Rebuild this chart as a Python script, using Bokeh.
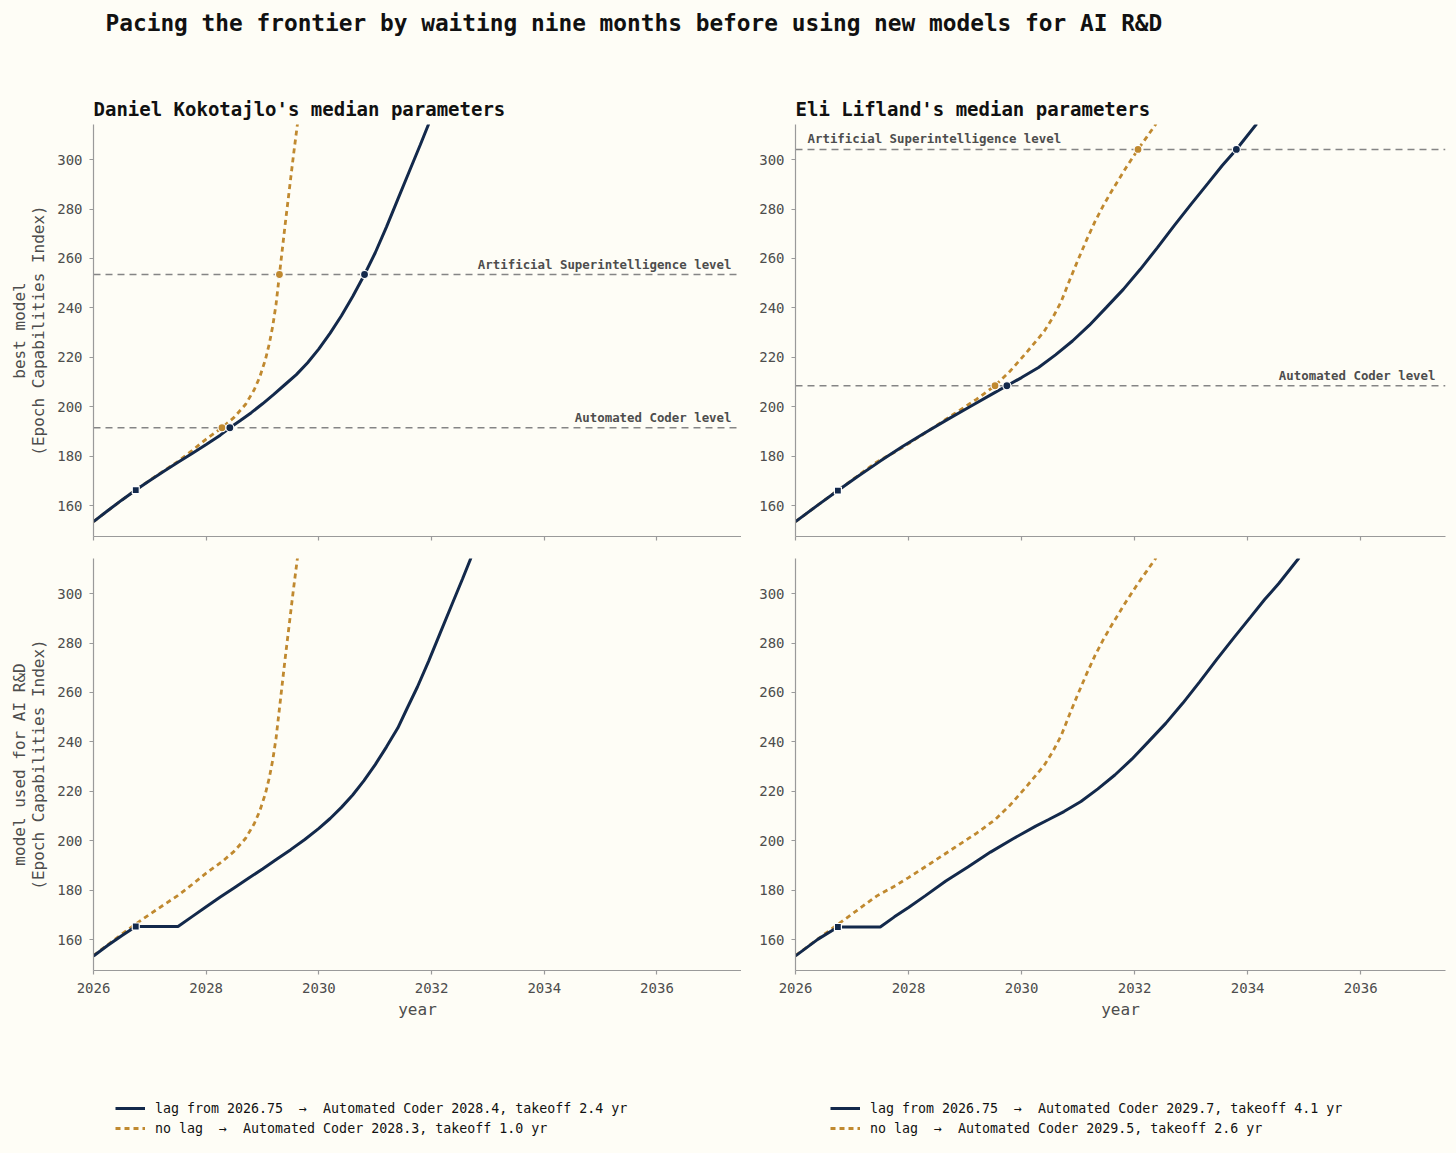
from bokeh.plotting import figure
from bokeh.layouts import column, row
from bokeh.models import (Span, Label, Legend, LegendItem, FixedTicker,
                          CustomJSTickFormatter, Range1d)
from bokeh.embed import file_html
from bokeh.resources import INLINE

BG = "#fefdf6"
NAVY = "#13294b"
GOLD = "#c0892f"
AXC = "#9a9a9a"
TXT = "#4d4d4d"
REF = "#858585"
FONT = "DejaVu Sans Mono"

MAIN_TITLE = "Pacing the frontier by waiting nine months before using new models for AI R&D"
PANEL_TITLES = ["Daniel Kokotajlo's median parameters", "Eli Lifland's median parameters"]
Y_LABEL_TOP = "best model\n(Epoch Capabilities Index)"
Y_LABEL_BOTTOM = "model used for AI R&D\n(Epoch Capabilities Index)"
X_LABEL = "year"
ASI_TEXT = "Artificial Superintelligence level"
AC_TEXT = "Automated Coder level"

x_ticks = [2026, 2028, 2030, 2032, 2034, 2036]
y_ticks = [160, 180, 200, 220, 240, 260, 280, 300]
x_lim = (2026, 2037.5)
y_lim = (147.5, 314.2)

# ---------------- Daniel Kokotajlo ----------------
dk_best_lag_x = [2026.0, 2026.25, 2026.5, 2026.75, 2027.0, 2027.25, 2027.5, 2027.75, 2028.0,
                 2028.25, 2028.42, 2028.6, 2028.8, 2029.0, 2029.2, 2029.4, 2029.6, 2029.8,
                 2030.0, 2030.2, 2030.4, 2030.6, 2030.81, 2031.0, 2031.2, 2031.4, 2031.6,
                 2031.8, 2031.95]
dk_best_lag_y = [153.5, 157.9, 162.2, 166.3, 170.2, 173.9, 177.5, 181.1, 184.7,
                 188.5, 191.5, 194.3, 197.6, 201.2, 205.0, 209.0, 213.0, 217.8,
                 223.4, 229.8, 236.8, 244.6, 253.5, 262.3, 272.8, 283.9, 295.0,
                 306.0, 314.5]
dk_nolag_x = [2026.0, 2026.5, 2026.75, 2027.0, 2027.25, 2027.5, 2027.75, 2028.0, 2028.28,
              2028.5, 2028.7, 2028.85, 2028.95, 2029.05, 2029.12, 2029.18, 2029.24, 2029.3,
              2029.35, 2029.4, 2029.45, 2029.5, 2029.55, 2029.62]
dk_nolag_y = [153.5, 162.2, 166.3, 170.3, 174.1, 177.9, 182.3, 186.9, 191.5,
              195.8, 201.0, 206.8, 212.0, 219.0, 225.5, 232.5, 241.5, 253.5,
              263.5, 273.5, 283.0, 292.5, 302.0, 314.5]
dk_used_lag_x = [2026.0, 2026.25, 2026.5, 2026.75, 2027.0, 2027.25, 2027.5, 2027.75, 2028.0,
                 2028.25, 2028.5, 2028.75, 2029.0, 2029.25, 2029.5, 2029.75, 2030.0, 2030.2,
                 2030.4, 2030.6, 2030.8, 2031.0, 2031.2, 2031.4, 2031.56, 2031.75, 2031.95,
                 2032.15, 2032.35, 2032.55, 2032.7]
dk_used_lag_y = [153.4, 157.6, 161.6, 165.3, 165.3, 165.3, 165.3, 169.3, 173.3,
                 177.2, 181.0, 184.8, 188.6, 192.5, 196.4, 200.5, 205.0, 209.0,
                 213.5, 218.5, 224.3, 230.8, 238.0, 245.6, 253.3, 262.3, 272.8,
                 283.9, 295.0, 306.0, 314.5]
dk_ac_level = 191.5
dk_asi_level = 253.5
dk_ac_year = {"lag": 2028.42, "nolag": 2028.28}
dk_asi_year = {"lag": 2030.81, "nolag": 2029.30}
dk_lag_start = (2026.75, 166.3, 165.3)   # year, best model, model used

# ---------------- Eli Lifland ----------------
el_best_lag_x = [2026.0, 2026.4, 2026.75, 2027.1, 2027.5, 2027.9, 2028.3, 2028.7, 2029.1,
                 2029.5, 2029.74, 2030.0, 2030.3, 2030.6, 2030.9, 2031.2, 2031.5, 2031.8,
                 2032.1, 2032.4, 2032.7, 2033.0, 2033.3, 2033.55, 2033.8, 2034.16]
el_best_lag_y = [153.5, 160.3, 166.1, 171.8, 178.0, 184.0, 189.6, 195.0, 200.2,
                 205.4, 208.5, 211.8, 215.9, 221.0, 226.6, 233.0, 240.2, 247.5,
                 255.6, 264.3, 273.3, 282.0, 290.5, 297.6, 304.1, 314.5]
el_nolag_x = [2026.0, 2026.4, 2026.75, 2027.1, 2027.44, 2027.75, 2028.0, 2028.4, 2028.82,
              2029.2, 2029.53, 2029.8, 2030.1, 2030.4, 2030.55, 2030.7, 2030.85, 2031.0,
              2031.15, 2031.3, 2031.45, 2031.6, 2031.85, 2032.06, 2032.22, 2032.38]
el_nolag_y = [153.5, 160.3, 166.2, 172.0, 177.7, 181.6, 185.1, 191.0, 197.3,
              203.0, 208.5, 214.5, 222.3, 230.5, 236.0, 242.5, 251.2, 259.5,
              267.5, 275.0, 281.6, 287.5, 296.8, 304.1, 309.3, 314.5]
el_used_lag_x = [2026.0, 2026.4, 2026.75, 2027.1, 2027.5, 2027.75, 2028.0, 2028.3, 2028.66,
                 2029.05, 2029.45, 2029.85, 2030.25, 2030.48, 2030.75, 2031.05, 2031.35,
                 2031.65, 2031.95, 2032.25, 2032.55, 2032.85, 2033.15, 2033.45, 2033.75,
                 2034.05, 2034.3, 2034.55, 2034.91]
el_used_lag_y = [153.4, 160.2, 165.1, 165.1, 165.1, 169.2, 173.0, 177.8, 183.7,
                 189.4, 195.4, 200.8, 205.9, 208.6, 211.8, 215.9, 221.0,
                 226.6, 233.0, 240.2, 247.5, 255.6, 264.3, 273.3, 282.0,
                 290.5, 297.6, 304.1, 314.5]
el_ac_level = 208.5
el_asi_level = 304.1
el_ac_year = {"lag": 2029.74, "nolag": 2029.53}
el_asi_year = {"lag": 2033.80, "nolag": 2032.06}
el_lag_start = (2026.75, 166.1, 165.1)

legend_labels_dk = ["lag from 2026.75  \u2192  Automated Coder 2028.4, takeoff 2.4 yr",
                    "no lag  \u2192  Automated Coder 2028.3, takeoff 1.0 yr"]
legend_labels_el = ["lag from 2026.75  \u2192  Automated Coder 2029.7, takeoff 4.1 yr",
                    "no lag  \u2192  Automated Coder 2029.5, takeoff 2.6 yr"]

NAVY_W = 3.0
GOLD_W = 2.8
GOLD_DASH = "5 4"


def style(p, show_xlabels):
    p.background_fill_color = BG
    p.border_fill_color = BG
    p.outline_line_color = None
    p.grid.visible = False
    for ax in (p.xaxis[0], p.yaxis[0]):
        ax.axis_line_color = AXC
        ax.axis_line_width = 1.2
        ax.major_tick_line_color = AXC
        ax.major_tick_line_width = 1.2
        ax.major_tick_out = 4
        ax.major_tick_in = 0
        ax.minor_tick_line_color = None
        ax.major_label_text_font = FONT
        ax.major_label_text_font_size = "14px"
        ax.major_label_text_color = TXT
        ax.axis_label_text_font = FONT
        ax.axis_label_text_font_size = "16px"
        ax.axis_label_text_font_style = "normal"
        ax.axis_label_text_color = TXT
        ax.axis_label_text_line_height = 1.02
    p.xaxis.ticker = FixedTicker(ticks=x_ticks)
    p.yaxis.ticker = FixedTicker(ticks=y_ticks)
    p.yaxis.major_label_standoff = 7
    p.yaxis.axis_label_standoff = 6
    if show_xlabels:
        p.xaxis.major_label_standoff = 8
        p.xaxis.axis_label_standoff = 4
        p.xaxis.axis_label = X_LABEL
    else:
        p.xaxis.formatter = CustomJSTickFormatter(code="return ''")
        p.xaxis.major_label_standoff = 0


def make_fig(left, top, bottom, right, frame_w, frame_h, title=None):
    p = figure(width=left + frame_w + right, height=top + frame_h + bottom,
               x_range=Range1d(*x_lim), y_range=Range1d(*y_lim),
               output_backend="svg", toolbar_location=None,
               min_border_left=left, min_border_right=right,
               min_border_top=top, min_border_bottom=bottom)
    if title:
        p.title.text = title
        p.title.text_font = FONT
        p.title.text_font_size = "19px"
        p.title.text_font_style = "bold"
        p.title.text_color = "#111111"
        p.title.align = "left"
        p.title.offset = 0
        p.title.standoff = 9
    return p


def ref_line(p, level, text, align):
    p.add_layout(Span(location=level, dimension="width", line_color=REF,
                      line_dash="7 5", line_width=1.5, level="underlay"))
    if align == "right":
        x, xo = x_lim[1], -10
    else:
        x, xo = x_lim[0], 12
    p.add_layout(Label(x=x, y=level, x_offset=xo, y_offset=3, text=text,
                       text_align=align, text_baseline="bottom",
                       text_font=FONT, text_font_size="12.4px",
                       text_font_style="bold", text_color=TXT))


LEFT_COL = dict(left=93, right=0, frame_w=648)
RIGHT_COL = dict(left=54, right=11, frame_w=650)


def top_panel(title, col, best_x, best_y, nl_x, nl_y, ac_level, asi_level,
              ac_year, asi_year, start, asi_align, ylabel):
    p = make_fig(col["left"], 40, 11, col["right"], col["frame_w"], 412, title)
    style(p, False)
    if ylabel:
        p.yaxis.axis_label = ylabel
    ref_line(p, asi_level, ASI_TEXT, asi_align)
    ref_line(p, ac_level, AC_TEXT, "right")
    p.line(nl_x, nl_y, line_color=GOLD, line_width=GOLD_W, line_dash=GOLD_DASH)
    p.line(best_x, best_y, line_color=NAVY, line_width=NAVY_W)
    p.scatter([ac_year["nolag"], asi_year["nolag"]], [ac_level, asi_level],
              marker="circle", size=8, fill_color=GOLD, line_color="white", line_width=1.2)
    p.scatter([ac_year["lag"], asi_year["lag"]], [ac_level, asi_level],
              marker="circle", size=8, fill_color=NAVY, line_color="white", line_width=1.2)
    p.scatter([start[0]], [start[1]], marker="square", size=7,
              fill_color=NAVY, line_color="white", line_width=1.2)
    return p


def bottom_panel(col, used_x, used_y, nl_x, nl_y, start, ylabel):
    p = make_fig(col["left"], 11, 70, col["right"], col["frame_w"], 412)
    style(p, True)
    if ylabel:
        p.yaxis.axis_label = ylabel
    p.line(nl_x, nl_y, line_color=GOLD, line_width=GOLD_W, line_dash=GOLD_DASH)
    p.line(used_x, used_y, line_color=NAVY, line_width=NAVY_W)
    p.scatter([start[0]], [start[2]], marker="square", size=7,
              fill_color=NAVY, line_color="white", line_width=1.2)
    return p


tl = top_panel(PANEL_TITLES[0], LEFT_COL, dk_best_lag_x, dk_best_lag_y, dk_nolag_x, dk_nolag_y,
               dk_ac_level, dk_asi_level, dk_ac_year, dk_asi_year, dk_lag_start, "right",
               Y_LABEL_TOP)
tr = top_panel(PANEL_TITLES[1], RIGHT_COL, el_best_lag_x, el_best_lag_y, el_nolag_x, el_nolag_y,
               el_ac_level, el_asi_level, el_ac_year, el_asi_year, el_lag_start, "left",
               None)
bl = bottom_panel(LEFT_COL, dk_used_lag_x, dk_used_lag_y, dk_nolag_x, dk_nolag_y,
                  dk_lag_start, Y_LABEL_BOTTOM)
br = bottom_panel(RIGHT_COL, el_used_lag_x, el_used_lag_y, el_nolag_x, el_nolag_y,
                  el_lag_start, None)

FULL_W = 1456

# header with the main title
hdr = figure(width=FULL_W, height=84, output_backend="svg", toolbar_location=None,
             x_axis_location=None, y_axis_location=None, min_border=0)
hdr.background_fill_color = BG
hdr.border_fill_color = BG
hdr.outline_line_color = None
hdr.grid.visible = False
hdr.add_layout(Label(x=105, y=62, x_units="screen", y_units="screen", text=MAIN_TITLE,
                     text_font=FONT, text_font_size="22.8px", text_font_style="bold",
                     text_color="#111111", text_baseline="middle"))

# legend strip (series drawn out of view so the legend can show their glyphs)
lf = figure(width=FULL_W, height=110, output_backend="svg", toolbar_location=None,
            x_axis_location=None, y_axis_location=None, min_border=0,
            x_range=Range1d(0, 1), y_range=Range1d(0, 1))
lf.background_fill_color = BG
lf.border_fill_color = BG
lf.outline_line_color = None
lf.grid.visible = False
r_dk_lag = lf.line(dk_used_lag_x, dk_used_lag_y, line_color=NAVY, line_width=NAVY_W)
r_dk_nl = lf.line(dk_nolag_x, dk_nolag_y, line_color=GOLD, line_width=GOLD_W,
                  line_dash=GOLD_DASH)
r_el_lag = lf.line(el_used_lag_x, el_used_lag_y, line_color=NAVY, line_width=NAVY_W)
r_el_nl = lf.line(el_nolag_x, el_nolag_y, line_color=GOLD, line_width=GOLD_W,
                  line_dash=GOLD_DASH)


def mk_legend(items, x):
    lg = Legend(items=items, location=(x, 12), orientation="vertical",
                label_text_font=FONT, label_text_font_size="13.3px",
                label_text_color="#111111", glyph_width=30, glyph_height=20,
                label_height=20, label_standoff=10, spacing=0, padding=0, margin=0,
                border_line_color=None, background_fill_alpha=0)
    lf.add_layout(lg)


mk_legend([LegendItem(label=legend_labels_dk[0], renderers=[r_dk_lag]),
           LegendItem(label=legend_labels_dk[1], renderers=[r_dk_nl])], 115)
mk_legend([LegendItem(label=legend_labels_el[0], renderers=[r_el_lag]),
           LegendItem(label=legend_labels_el[1], renderers=[r_el_nl])], 830)

layout = column(hdr, row(tl, tr), row(bl, br), lf)
html = file_html(layout, INLINE, title="Pacing the frontier")
html = html.replace("<head>", "<head><style>body{background:%s;}</style>" % BG, 1)
open("out.html", "w").write(html)
